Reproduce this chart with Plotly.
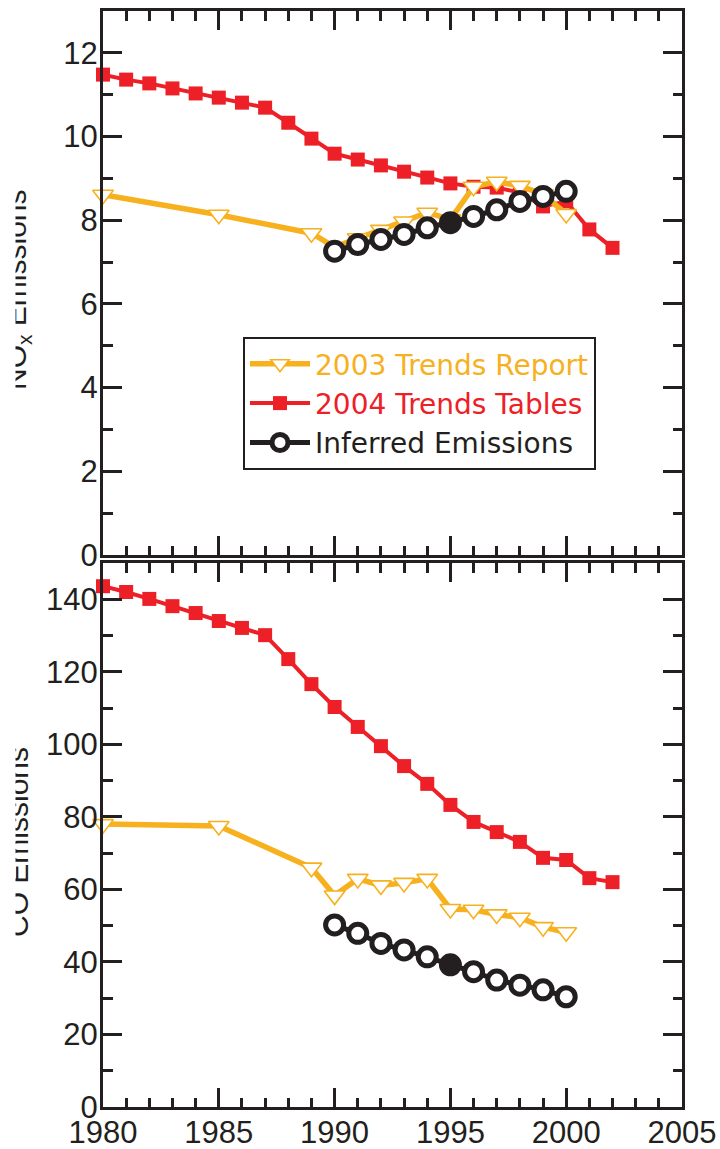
import plotly.graph_objects as go
from plotly.subplots import make_subplots

# ---- data -----------------------------------------------------------------
table_years = list(range(1980, 2003))
report_years = [1980, 1985, 1989, 1990, 1991, 1992, 1993, 1994, 1995,
                1996, 1997, 1998, 1999, 2000]
inferred_years = list(range(1990, 2001))

# NOx emissions
nox_tables = [11.48, 11.36, 11.27, 11.15, 11.03, 10.93, 10.81, 10.69, 10.33,
              9.95, 9.59, 9.45, 9.31, 9.16, 9.02, 8.88, 8.80, 8.78, 8.66,
              8.33, 8.45, 7.78, 7.34]
nox_report = [8.61, 8.13, 7.69, 7.36, 7.57, 7.77, 7.97, 8.18, 8.02,
              8.80, 8.92, 8.82, 8.62, 8.15]
nox_inferred = [7.26, 7.42, 7.54, 7.66, 7.82, 7.94, 8.09, 8.25, 8.45,
                8.57, 8.69]

# CO emissions
co_tables = [143.6, 142.0, 140.1, 138.1, 136.2, 134.0, 132.1, 130.1, 123.5,
             116.6, 110.3, 104.8, 99.5, 94.0, 89.1, 83.3, 78.6, 75.8, 73.1,
             68.7, 68.1, 63.1, 62.0]
co_report = [78.0, 77.5, 66.0, 58.3, 62.9, 61.1, 61.8, 62.9, 54.6,
             54.4, 53.1, 52.2, 49.6, 48.2]
co_inferred = [50.2, 47.9, 45.1, 43.3, 41.4, 39.2, 37.3, 35.0, 33.6,
               32.3, 30.4]

anchor_year = 1995  # inferred point drawn solid

# ---- styling --------------------------------------------------------------
INK = "#231F20"
ORANGE = "#F7B01E"
RED = "#ED2027"
SANS = "Liberation Sans, Arial, Helvetica, sans-serif"

# plot area in pixels (figure is 720 x 1149)
L, R, T, B = 103, 682, 11, 1107
W, H = R - L, B - T


def px_x(px):
    return (px - L) / W


def px_y(py):
    return (B - py) / H


fig = make_subplots(rows=2, cols=1, shared_xaxes=True)


def add_panel(row, tables, report, inferred, show_legend):
    fig.add_trace(go.Scatter(
        x=table_years, y=tables, mode="lines+markers",
        name=f'<span style="color:{RED}">2004 Trends Tables</span>',
        line=dict(color=RED, width=4),
        marker=dict(symbol="square", size=14, color=RED),
        cliponaxis=False, showlegend=show_legend, legendrank=2,
    ), row=row, col=1)
    fig.add_trace(go.Scatter(
        x=report_years, y=report, mode="lines+markers",
        name=f'<span style="color:{ORANGE}">2003 Trends Report</span>',
        line=dict(color=ORANGE, width=5.5),
        marker=dict(symbol="triangle-down", size=18, color="white",
                    line=dict(color=ORANGE, width=1.6)),
        cliponaxis=False, showlegend=show_legend, legendrank=1,
    ), row=row, col=1)
    fills = [INK if yr == anchor_year else "white" for yr in inferred_years]
    fig.add_trace(go.Scatter(
        x=inferred_years, y=inferred, mode="lines+markers",
        name="Inferred Emissions",
        line=dict(color=INK, width=5),
        marker=dict(symbol="circle", size=18, color=fills,
                    line=dict(color=INK, width=5)),
        cliponaxis=False, showlegend=show_legend, legendrank=3,
    ), row=row, col=1)


add_panel(1, nox_tables, nox_report, nox_inferred, True)
add_panel(2, co_tables, co_report, co_inferred, False)

axis_common = dict(
    showline=True, linewidth=3, linecolor=INK, mirror="ticks",
    ticks="inside", ticklen=19, tickwidth=2.5, tickcolor=INK,
    showgrid=False, zeroline=False, automargin=False,
    tickfont=dict(family=SANS, size=31, color=INK),
)


def minor(dt):
    return dict(ticks="inside", ticklen=9.5, tickwidth=2.5, tickcolor=INK,
                dtick=dt, showgrid=False)


top_split = px_y(555)
bottom_split = px_y(563)

fig.update_layout(
    width=720, height=1149,
    margin=dict(l=L, r=720 - R, t=T, b=1149 - B, autoexpand=False),
    paper_bgcolor="white", plot_bgcolor="white",
    xaxis=dict(axis_common, range=[1980, 2005], tick0=1980, dtick=5,
               minor=minor(1), showticklabels=False),
    xaxis2=dict(axis_common, range=[1980, 2005], tick0=1980, dtick=5,
                minor=minor(1), ticklabelstandoff=-4),
    yaxis=dict(axis_common, range=[0, 13], tick0=0, dtick=2,
               minor=minor(1), domain=[top_split, 1], ticklabelstandoff=-4),
    yaxis2=dict(axis_common, range=[0, 150], tick0=0, dtick=20,
                minor=minor(10), domain=[0, bottom_split],
                ticklabelstandoff=-4),
    legend=dict(
        x=px_x(243), y=px_y(337), xanchor="left", yanchor="top",
        bgcolor="white", bordercolor=INK, borderwidth=2,
        font=dict(family="DejaVu Sans, " + SANS, size=28, color=INK),
        itemwidth=60, traceorder="normal",
    ),
    showlegend=True,
)

# rotated axis titles, trimmed at the left by a white strip
titles = [("NO<sub>x</sub> Emissions", 290), ("CO Emissions", 842)]
for text, cy in titles:
    fig.add_annotation(
        text=text, textangle=-90, showarrow=False,
        xref="paper", yref="paper", x=px_x(17), y=px_y(cy),
        xanchor="center", yanchor="middle",
        font=dict(family=SANS, size=30, color=INK),
    )
for _, cy in titles:
    fig.add_annotation(
        text=" ", showarrow=False, xref="paper", yref="paper",
        x=px_x(0), y=px_y(cy), xanchor="left", yanchor="middle",
        width=14, height=300, bgcolor="white", borderpad=0,
    )

fig.write_html("out.html")
